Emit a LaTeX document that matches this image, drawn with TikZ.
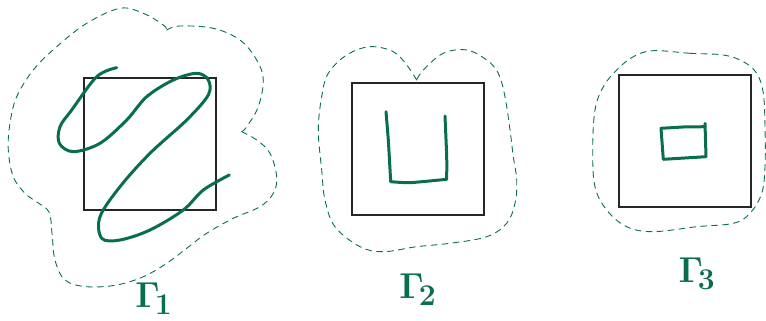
\documentclass[tikz,border=0pt]{standalone}
\usepackage{amsmath}
\begin{document}
\begin{tikzpicture}[x=1pt,y=-1pt,
  box/.style={draw=black!85,line width=1.3pt},
  ink/.style={draw=pen,line width=3pt,line cap=round,line join=round},
  blob/.style={draw=pen,line width=0.9pt,dash pattern=on 6pt off 5pt,line cap=round},
  lab/.style={text=pen,font=\Huge,scale=1.45,inner sep=0pt}]
\definecolor{pen}{RGB}{8,110,78}
\useasboundingbox (0,0) rectangle (766,321);
% boxes
\draw[box] (84,78) rectangle (216,210);
\draw[box] (352,83) rectangle (484,215);
\draw[box] (619,75) rectangle (751,207);
% green scribbles
\draw[ink] plot[smooth,tension=0.55] coordinates {(116.7,67.7) (96.7,76.7) (71.7,110) (60,126.7) (59.3,143.3) (73.3,151.7) (100,143.3) (126.7,120) (146.7,96.7) (173.3,80) (196.7,73.3) (208.3,80) (208.3,95) (186.7,120) (150,153.3) (120,186.7) (100,216.7) (101.7,238.3) (120,240) (150,230) (183.3,210) (203.3,190) (229.3,175)};
\draw[ink] plot[smooth,tension=0.3] coordinates {(386,111.7) (388.3,140) (390.7,181.7)} -- plot[smooth,tension=0.3] coordinates {(390.7,181.7) (410,182.7) (446.7,179.3)} -- plot[smooth,tension=0.3] coordinates {(446.7,179.3) (446.7,156.7) (445,116)};
\draw[ink] (705,123.3) -- (706,156.7) -- (663.3,159.3) -- (661,128.3) -- (683,127) -- (705,126.7);
% dashed outlines
\draw[blob] plot[smooth,tension=0.6] coordinates {(166.7,30) (180,26) (213.3,28.3) (240,40) (256.7,60) (263.3,80) (258.3,106.7) (246.7,126.7) (241.7,131.7)};
\draw[blob] plot[smooth,tension=0.6] coordinates {(241.7,131.7) (256.7,140) (270,153.3) (276.7,176.7) (273.3,193.3) (260,206.7) (233.3,218.3) (206.7,233.3) (186.7,248.3) (166.7,263.3) (143.3,276.7) (116.7,285) (86.7,286.7) (65,280) (55,260) (52,233.3) (49,212) (36.7,202) (25,193.3) (13.3,176.7) (8.3,150) (10,123.3) (16.7,96.7) (33.3,70) (56.7,46.7) (86.7,23.3) (120,8.3) (143.3,13.3) (163.3,25) (166.7,30)};
\draw[blob] plot[smooth,tension=0.6] coordinates {(416.7,80) (406.7,65) (393.3,51.7) (370,46.7) (346.7,55) (328.3,73.3) (321.7,96.7) (318.3,130) (321.7,170) (325,200) (335,226.7) (360,246.7) (383.3,251.7) (416.7,246.7) (450,243.3) (486.7,236.7) (506.7,223.3) (515,203.3) (516.7,180) (513.3,156.7) (510,130) (505,96.7) (498.3,73.3) (486.7,60) (466.7,50) (443.3,53.3) (423.3,70) (416.7,80)};
\draw[blob] plot[smooth cycle,tension=0.6] coordinates {(653.3,50.7) (690,53.3) (723.3,55) (743.3,61.7) (756.7,73.3) (763.3,93.3) (765,126.7) (765,166.7) (761.7,193.3) (750,213.3) (733.3,223.3) (696.7,226.7) (653.3,231.7) (626.7,226.7) (606.7,210) (595,186.7) (592.7,150) (595,110) (603.3,86.7) (616.7,70) (633.3,56.7)};
% labels
\node[lab] (g1) at (154,299) {$\boldsymbol{\Gamma}_{\!\mathbf{1}}$};
\node[lab] (g2) at (418,290) {$\boldsymbol{\Gamma}_{\!\mathbf{2}}$};
\node[lab] (g3) at (697,274) {$\boldsymbol{\Gamma}_{\!\mathbf{3}}$};
\end{tikzpicture}
\end{document}
